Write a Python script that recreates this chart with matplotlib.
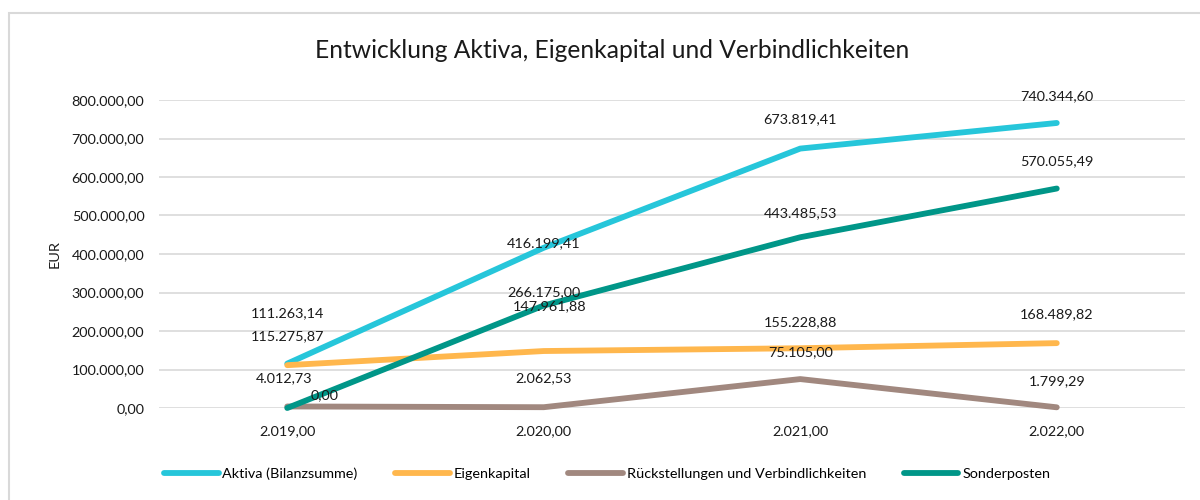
import matplotlib
matplotlib.use("Agg")
import matplotlib.pyplot as plt
from matplotlib.patches import Rectangle

years = [2019, 2020, 2021, 2022]
x_labels = ["2.019,00", "2.020,00", "2.021,00", "2.022,00"]
y_ticks = [0, 100000, 200000, 300000, 400000, 500000, 600000, 700000, 800000]
y_tick_labels = ["0,00", "100.000,00", "200.000,00", "300.000,00", "400.000,00",
                 "500.000,00", "600.000,00", "700.000,00", "800.000,00"]

aktiva = [115275.87, 416199.41, 673819.41, 740344.60]
eigenkapital = [111263.14, 147961.88, 155228.88, 168489.82]
rueckstellungen = [4012.73, 2062.53, 75105.00, 1799.29]
sonderposten = [0.00, 266175.00, 443485.53, 570055.49]

series_names = ["Aktiva (Bilanzsumme)", "Eigenkapital",
                "Rückstellungen und Verbindlichkeiten", "Sonderposten"]
series_values = [aktiva, eigenkapital, rueckstellungen, sonderposten]
colors = ["#26C6DA", "#FFB74D", "#A1887F", "#009688"]

# label offsets in pixels (dx, dy) relative to the data point
label_offsets = [
    [(0, 27), (0, 5), (0, 29), (0, 27)],
    [(0, 52), (6, 45), (0, 26), (0, 29)],
    [(-3, 28), (0, 29), (0, 27), (0, 26)],
    [(37, 13), (0, 13.5), (0, 24), (0, 27)],
]

def fmt(v):
    s = f"{v:,.2f}"
    return s.replace(",", "X").replace(".", ",").replace("X", ".")

plt.rcParams['font.family'] = ['Lato', 'DejaVu Sans']
FS = 10.4

fig = plt.figure(figsize=(12, 5), dpi=100)
fig.patches.append(Rectangle((9/1200, -0.1), 1.2, 1 - 13/500 + 0.1,
                             transform=fig.transFigure, fill=False,
                             edgecolor="#D9D9D9", linewidth=1.5))

ax = fig.add_axes([159/1200, 1 - 408/500, (1185 - 159)/1200, (408 - 100)/500])
xs = list(range(len(years)))

for name, vals, col in zip(series_names, series_values, colors):
    ax.plot(xs, vals, color=col, linewidth=4.2, solid_capstyle="round",
            solid_joinstyle="round", label=name, zorder=3, clip_on=False)

for vals, offs in zip(series_values, label_offsets):
    for xi, v, (dx, dy) in zip(xs, vals, offs):
        ax.annotate(fmt(v), (xi, v), xytext=(dx, dy), textcoords="offset pixels",
                    ha="center", va="center", fontsize=FS, color="#1a1a1a", zorder=4)

ax.set_xlim(-0.5, 3.5)
ax.set_ylim(0, 800000)
ax.set_xticks(xs)
ax.set_xticklabels(x_labels)
ax.set_yticks(y_ticks)
ax.set_yticklabels(y_tick_labels)
ax.tick_params(axis="both", length=0, labelsize=FS, colors="#1a1a1a")
ax.tick_params(axis="y", pad=10.5)
ax.tick_params(axis="x", pad=12)
ax.grid(axis="y", color="#D9D9D9", linewidth=1.2)
ax.set_axisbelow(True)
for sp in ax.spines.values():
    sp.set_visible(False)

ax.set_ylabel("EUR", fontsize=FS, color="#1a1a1a", labelpad=8)

fig.text(612/1200, 1 - 50/500, "Entwicklung Aktiva, Eigenkapital und Verbindlichkeiten",
         ha="center", va="center", fontsize=17.7, color="#1a1a1a")

leg = fig.legend(loc="center left", bbox_to_anchor=(158/1200, 1 - 474/500), ncol=4,
                 frameon=False, fontsize=FS, handlelength=3.8, handletextpad=0.25,
                 columnspacing=2.6, borderaxespad=0)
for h in leg.get_lines():
    h.set_linewidth(4.2)
    h.set_solid_capstyle("round")

fig.savefig("out.png", dpi=100)
